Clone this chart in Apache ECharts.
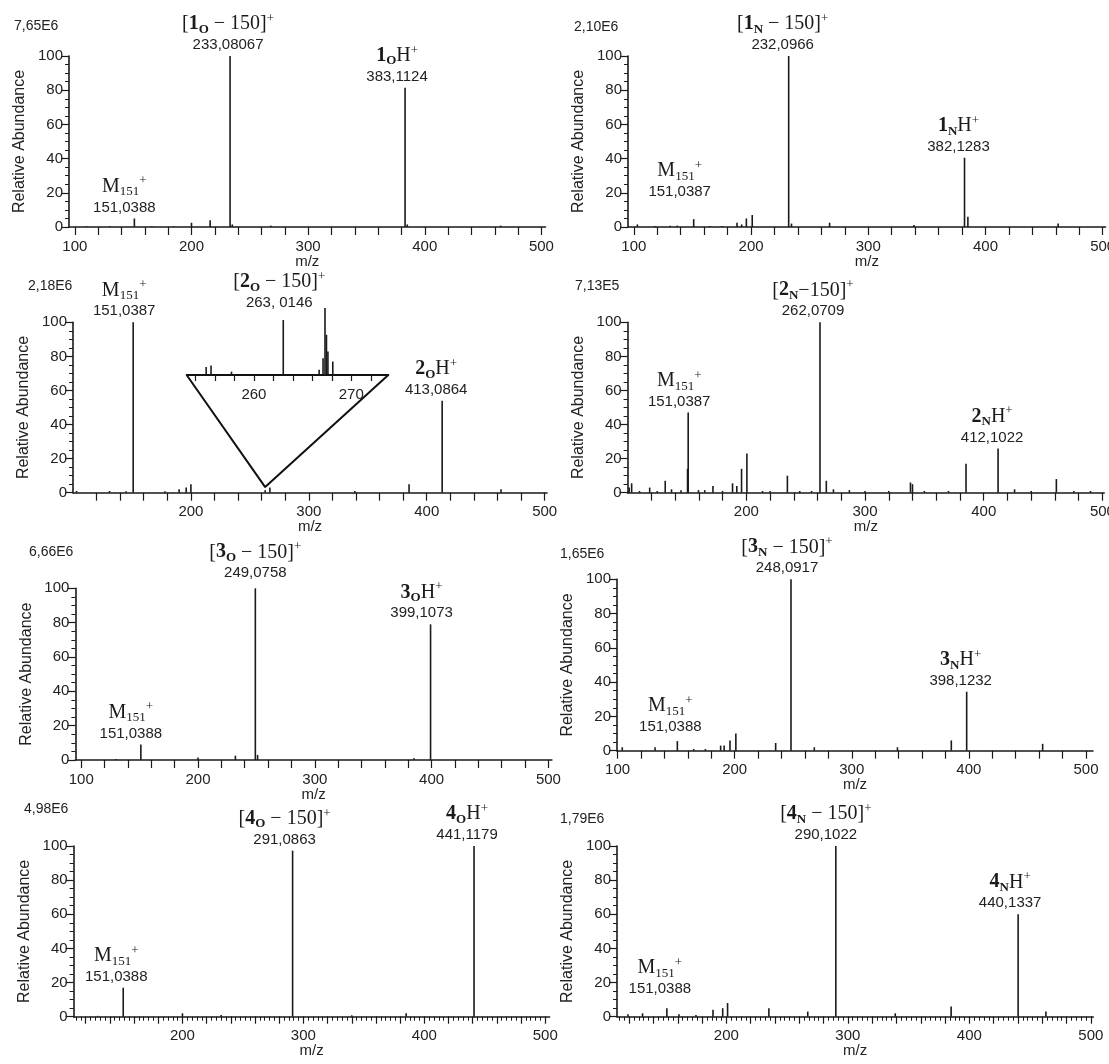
<!DOCTYPE html>
<html><head><meta charset="utf-8">
<script src="https://cdn.jsdelivr.net/npm/echarts@6/dist/echarts.min.js"></script>
<style>html,body{margin:0;padding:0;background:#fff}#c{width:1109px;height:1064px}</style>
</head><body><div id="c"></div>
<script>
// ---------------- DATA ----------------
// Panel 1_O
const mz1O = [110, 130, 151.0388, 166, 185, 200, 216, 233.08067, 235, 268, 383.1124, 385, 465];
const ab1O = [0.5, 0.5, 5, 0.5, 0.5, 2.5, 4, 100, 1.5, 0.8, 81.5, 1.5, 0.8];
// Panel 1_N
const mz1N = [103, 118, 131, 137, 151.0387, 165, 175, 188, 192, 196, 201, 232.0966, 234.5, 267, 339, 382.1283, 385, 462];
const ab1N = [1.5, 0.6, 0.8, 0.8, 4.6, 0.6, 0.6, 2.5, 1.5, 5, 7, 100, 2, 2.5, 1.2, 40.5, 6, 2];
// Panel 2_O
const mz2O = [103, 131, 145, 151.0387, 178, 190, 196, 200, 263.0146, 267, 339, 385, 413.0864, 463];
const ab2O = [1, 1, 0.8, 100, 0.8, 2, 3, 5, 1.5, 3, 1, 5, 54, 2];
// Inset of 2_O (m/z 253-274)
const mzInset = [255.1, 255.6, 257.7, 263.0146, 266.7, 267.1, 267.3, 267.45, 267.6, 268.1];
const abInset = [12, 14, 5, 82, 8, 25, 100, 60, 35, 20];
// Callout triangle joining the inset to the main 2_O spectrum (m/z, rel. abundance)
const calloutMz = [196.4, 263, 367.4];
const calloutAb = [69.1, 3.3, 69.1];
// Panel 2_N
const mz2N = [101.3, 103.4, 110, 118.6, 125, 131.7, 137, 145, 150.5, 151.0387, 159.7, 165, 171.9, 180, 188.4, 192, 196, 200.5, 213.7, 220, 234.6, 245, 255, 262.0709, 267.4, 273.4, 286.8, 300, 320, 338.3, 340, 350, 370.3, 385.1, 412.1022, 426, 440, 461.2, 476, 490];
const ab2N = [3, 5.5, 1, 3, 1, 7, 2, 1.5, 14, 47, 1.5, 1.5, 4, 1, 5.5, 4, 14, 23, 1, 1, 10, 1, 1, 100, 7, 2, 1.5, 1, 1, 6, 5, 1, 1, 17, 26, 2, 1, 8, 1, 1];
// Panel 3_O
const mz3O = [130, 151.0388, 200, 232, 249.0758, 251, 385, 399.1073];
const ab3O = [0.5, 9, 1.5, 2.5, 100, 3, 1, 79];
// Panel 3_N
const mz3N = [104, 132, 151.0388, 165, 175, 188, 191, 196, 201, 235, 248.0917, 268, 339, 385, 398.1232, 463];
const ab3N = [2, 2, 5.6, 1, 1, 3, 3, 6, 10, 4.5, 100, 2, 2, 6, 34.4, 4];
// Panel 4_O
const mz4O = [130, 151.0388, 200, 232, 291.0863, 340, 385, 441.1179];
const ab4O = [0.5, 17, 2, 1, 97.3, 0.8, 2, 100];
// Panel 4_N
const mz4N = [119, 131, 151.0388, 161, 175, 189, 197, 201, 235, 267, 290.1022, 339, 385, 440.1337, 463];
const ab4N = [1.5, 2, 5, 1.5, 1, 4, 5, 8, 5, 3, 100, 2, 6, 60, 3];

// Peak annotations (rich-text markup + accurate mass text)
const ann1O = [[233.08067, '{t|[}{b|1}{sb|O}{t| − 150]}{sp|+}', '233,08067'], [383.1124, '{b|1}{sb|O}{t|H}{sp|+}', '383,1124'], [151.0388, '{t|M}{s|151}{sp|+}', '151,0388']];
const ann1N = [[232.0966, '{t|[}{b|1}{sb|N}{t| − 150]}{sp|+}', '232,0966'], [382.1283, '{b|1}{sb|N}{t|H}{sp|+}', '382,1283'], [151.0387, '{t|M}{s|151}{sp|+}', '151,0387']];
const ann2O = [[151.0387, '{t|M}{s|151}{sp|+}', '151,0387'], [413.0864, '{b|2}{sb|O}{t|H}{sp|+}', '413,0864']];
const annInset = [[263.0146, '{t|[}{b|2}{sb|O}{t| − 150]}{sp|+}', '263, 0146']];
const ann2N = [[262.0709, '{t|[}{b|2}{sb|N}{t|−150]}{sp|+}', '262,0709'], [151.0387, '{t|M}{s|151}{sp|+}', '151,0387'], [412.1022, '{b|2}{sb|N}{t|H}{sp|+}', '412,1022']];
const ann3O = [[249.0758, '{t|[}{b|3}{sb|O}{t| − 150]}{sp|+}', '249,0758'], [399.1073, '{b|3}{sb|O}{t|H}{sp|+}', '399,1073'], [151.0388, '{t|M}{s|151}{sp|+}', '151,0388']];
const ann3N = [[248.0917, '{t|[}{b|3}{sb|N}{t| − 150]}{sp|+}', '248,0917'], [398.1232, '{b|3}{sb|N}{t|H}{sp|+}', '398,1232'], [151.0388, '{t|M}{s|151}{sp|+}', '151,0388']];
const ann4O = [[291.0863, '{t|[}{b|4}{sb|O}{t| − 150]}{sp|+}', '291,0863'], [441.1179, '{b|4}{sb|O}{t|H}{sp|+}', '441,1179'], [151.0388, '{t|M}{s|151}{sp|+}', '151,0388']];
const ann4N = [[290.1022, '{t|[}{b|4}{sb|N}{t| − 150]}{sp|+}', '290,1022'], [440.1337, '{b|4}{sb|N}{t|H}{sp|+}', '440,1337'], [151.0388, '{t|M}{s|151}{sp|+}', '151,0388']];

// Base-peak intensities shown at each panel's corner
const cornerTexts = ['7,65E6', '2,10E6', '2,18E6', '7,13E5', '6,66E6', '1,65E6', '4,98E6', '1,79E6'];

// Tick labels
const xLabelsFull = [100, 200, 300, 400, 500];
const xLabelsFrom200 = [200, 300, 400, 500];
const insetLabels = [260, 270];
const yLabels = [0, 20, 40, 60, 80, 100];

// ---------------- LAYOUT ----------------
function stepList(a, b, s) { const r = []; for (let v = a; v <= b + 1e-9; v += s) r.push(v); return r; }
const ticks20From100 = stepList(100, 500, 20);
const ticks20From120 = stepList(120, 500, 20);
const ticks4From112 = stepList(112, 500, 4);
const ticksInset = stepList(254, 272, 2);

const layout = [
  {g: {left: 69, top: 56, width: 476.5, height: 171}, min: 95, max: 503.5, lab: xLabelsFull, major: ticks20From100, minor: null, corner: [14, 19], off: [[-2, 0], [-8, 0], [-10, 0]]},
  {g: {left: 628, top: 56, width: 477.6, height: 171}, min: 95, max: 502.5, lab: xLabelsFull, major: ticks20From100, minor: null, corner: [574, 20], off: [[-6, 0], [-6, 0], [-14, -16]]},
  {g: {left: 73, top: 322.3, width: 474, height: 170.4}, min: 100, max: 502, lab: xLabelsFrom200, major: ticks20From120, minor: null, corner: [28, 279], off: [[-9, 0], [-6, 0]]},
  {g: {left: 627.6, top: 322.3, width: 476.6, height: 170.4}, min: 100, max: 501.5, lab: xLabelsFrom200, major: ticks20From120, minor: null, corner: [575, 279], off: [[-7, 0], [-9, 0], [-6, 0]]},
  {g: {left: 75.4, top: 588.3, width: 476.5, height: 171.7}, min: 95, max: 503, lab: xLabelsFull, major: ticks20From100, minor: null, corner: [29, 545], off: [[0, -4], [-9, 0], [-10, 0]]},
  {g: {left: 617, top: 579.3, width: 476, height: 171.4}, min: 99.5, max: 506, lab: xLabelsFull, major: ticks20From100, minor: null, corner: [560, 547], off: [[-4, 0], [-6, 0], [-7, -3]]},
  {g: {left: 73.6, top: 846, width: 476, height: 170.7}, min: 110, max: 503.6, lab: xLabelsFrom200, major: ticks20From120, minor: ticks4From112, corner: [24, 802], off: [[-8, 0], [-7, 0], [-7, 0]]},
  {g: {left: 617, top: 846, width: 476.3, height: 170.7}, min: 110, max: 502, lab: xLabelsFrom200, major: ticks20From120, minor: ticks4From112, corner: [560, 812], off: [[-10, 0], [-8, 0], [-7, -8]]}
];
const insetLayout = {g: {left: 186.7, top: 308, width: 201.6, height: 67}, min: 253.1, max: 273.8, off: [[-4, -6]]};

const spectra = [[mz1O, ab1O, ann1O], [mz1N, ab1N, ann1N], [mz2O, ab2O, ann2O], [mz2N, ab2N, ann2N],
                 [mz3O, ab3O, ann3O], [mz3N, ab3N, ann3N], [mz4O, ab4O, ann4O], [mz4N, ab4N, ann4N]];

const SANS = 'Liberation Sans, Arial, sans-serif';
const SERIF = 'Liberation Serif, Times New Roman, serif';
const INK = '#1a1a1a';
const rich = {
  t: {fontFamily: SERIF, fontSize: 20, color: INK, lineHeight: 24, align: 'center'},
  b: {fontFamily: SERIF, fontSize: 20, fontWeight: 'bold', color: INK, lineHeight: 24, align: 'center'},
  sb: {fontFamily: SERIF, fontSize: 13, fontWeight: 'bold', color: INK, lineHeight: 14, verticalAlign: 'bottom', align: 'center'},
  s: {fontFamily: SERIF, fontSize: 13, color: INK, lineHeight: 14, verticalAlign: 'bottom', align: 'center'},
  sp: {fontFamily: SERIF, fontSize: 13, color: INK, lineHeight: 12, verticalAlign: 'top', align: 'center'},
  n: {fontFamily: SANS, fontSize: 15, color: '#222', lineHeight: 18, align: 'center'}
};

function buildItems(mz, ab, ann, offs) {
  return mz.map((m, i) => {
    const item = {value: [m, ab[i]]};
    const k = ann.findIndex(a => a[0] === m);
    if (k >= 0) {
      item.label = {show: true, position: 'top', distance: 2, offset: offs[k],
        formatter: ann[k][1] + '\n{n|' + ann[k][2] + '}', rich: rich};
    }
    return item;
  });
}

const grids = [], xAxes = [], yAxes = [], series = [], titles = [];
const axisText = {fontFamily: SANS, fontSize: 15, color: '#222'};

layout.forEach((L, i) => {
  grids.push(Object.assign({outerBoundsMode: 'none', containLabel: false}, L.g));
  const mainX = xAxes.length;
  xAxes.push({type: 'value', gridIndex: i, min: L.min, max: L.max, position: 'bottom',
    name: 'm/z', nameLocation: 'middle', nameGap: 27, nameMoveOverlap: false,
    nameTextStyle: axisText,
    axisLine: {show: true, onZero: false, lineStyle: {color: INK, width: 1.6}},
    axisTick: {show: true, customValues: L.major, length: L.minor ? 7 : 8, lineStyle: {color: INK, width: 1.2}},
    axisLabel: Object.assign({customValues: L.lab, margin: 12, showMinLabel: true, showMaxLabel: true}, axisText),
    splitLine: {show: false}});
  if (L.minor) {
    xAxes.push({type: 'value', gridIndex: i, min: L.min, max: L.max, position: 'bottom',
      axisLine: {show: false}, axisLabel: {show: false}, splitLine: {show: false},
      axisTick: {show: true, customValues: L.minor, length: 4, lineStyle: {color: INK, width: 1}}});
  }
  yAxes.push({type: 'value', gridIndex: i, min: 0, max: 100, interval: 20,
    name: 'Relative Abundance', nameLocation: 'middle', nameGap: 41, nameRotate: 90, nameMoveOverlap: false,
    nameTextStyle: {fontFamily: SANS, fontSize: 16, color: '#222'},
    axisLine: {show: true, onZero: false, lineStyle: {color: INK, width: 1.6}},
    axisTick: {show: true, length: 8, lineStyle: {color: INK, width: 1.2}},
    minorTick: {show: true, splitNumber: 4, length: 4, lineStyle: {color: INK, width: 1}},
    axisLabel: Object.assign({margin: 6}, axisText),
    splitLine: {show: false}, minorSplitLine: {show: false}});
  const sp = spectra[i];
  series.push({type: 'bar', xAxisIndex: mainX, yAxisIndex: i, barWidth: 1.6, silent: true,
    itemStyle: {color: INK}, data: buildItems(sp[0], sp[1], sp[2], L.off), z: 3});
  if (i === 2) {
    series.push({type: 'line', xAxisIndex: mainX, yAxisIndex: i, symbol: 'none', silent: true,
      lineStyle: {color: '#111', width: 2}, data: calloutMz.map((m, k) => [m, calloutAb[k]]), z: 2});
  }
  titles.push({text: cornerTexts[i], left: L.corner[0], top: L.corner[1], padding: 0,
    textStyle: {fontFamily: SANS, fontSize: 14, fontWeight: 'normal', color: '#222'}});
});

// inset grid
const gi = grids.length;
grids.push(Object.assign({outerBoundsMode: 'none', containLabel: false}, insetLayout.g));
const insetX = xAxes.length;
xAxes.push({type: 'value', gridIndex: gi, min: insetLayout.min, max: insetLayout.max, position: 'bottom',
  axisLine: {show: true, onZero: false, lineStyle: {color: '#111', width: 2}},
  axisTick: {show: true, customValues: ticksInset, length: 6, lineStyle: {color: INK, width: 1.2}},
  axisLabel: Object.assign({customValues: insetLabels, margin: 12}, axisText),
  splitLine: {show: false}});
const insetY = yAxes.length;
yAxes.push({type: 'value', gridIndex: gi, min: 0, max: 100, show: false, splitLine: {show: false}});
series.push({type: 'bar', xAxisIndex: insetX, yAxisIndex: insetY, barWidth: 1.6, silent: true,
  itemStyle: {color: INK}, data: buildItems(mzInset, abInset, annInset, insetLayout.off), z: 4});

const chart = echarts.init(document.getElementById('c'), null, {renderer: 'canvas'});
chart.setOption({
  animation: false,
  backgroundColor: '#fff',
  title: titles,
  grid: grids,
  xAxis: xAxes,
  yAxis: yAxes,
  series: series
});
</script>
</body></html>
